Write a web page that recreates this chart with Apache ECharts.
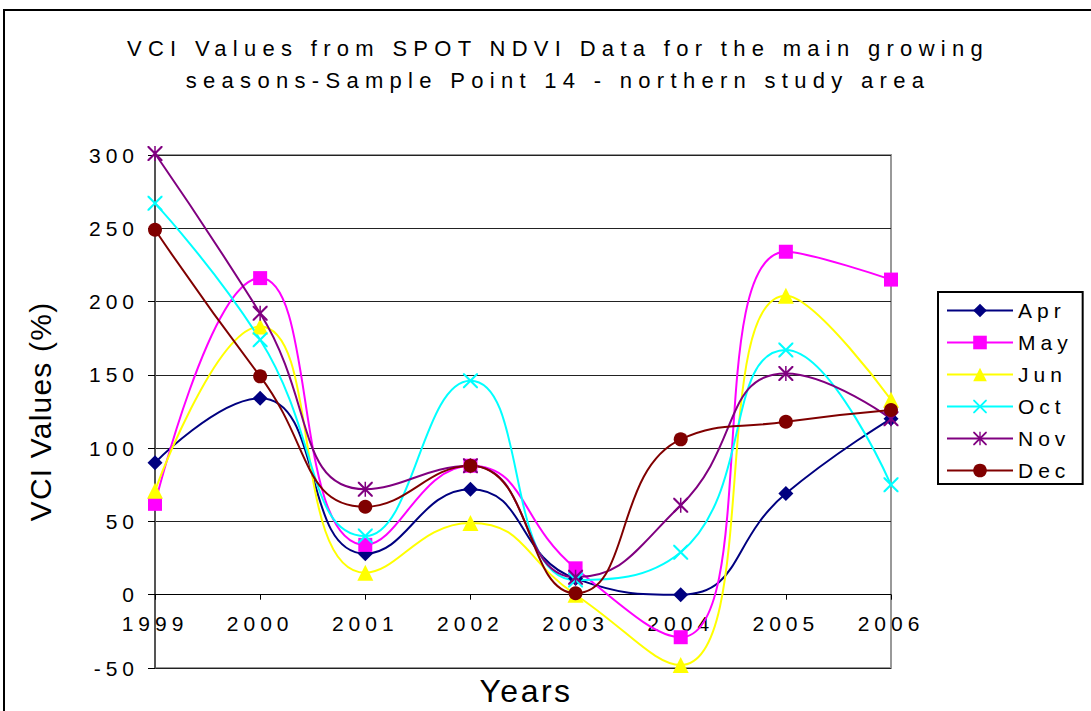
<!DOCTYPE html>
<html>
<head>
<meta charset="utf-8">
<script src="https://cdn.jsdelivr.net/npm/echarts@6/dist/echarts.min.js"></script>
<style>
  html, body { margin: 0; padding: 0; background: #fff; }
  #chart { width: 1091px; height: 711px; }
  /* old excel look: wide tracking on the small text */
  #chart text { letter-spacing: 5px; }
  #chart text[style*="22px"] { letter-spacing: 6.3px; }
  #chart text[style*="30px"] { letter-spacing: 1.2px; }
  #chart text[style*="32px"] { letter-spacing: 2.5px; }
</style>
</head>
<body>
<div id="chart"></div>
<script>
// years on the category axis
const years = ['1999', '2000', '2001', '2002', '2003', '2004', '2005', '2006']

// VCI values (%)
const apr = [90, 134, 28, 72, 11, 0, 69, 120]
const may = [62, 216, 34, 88, 18, -29, 234, 215]
const jun = [71, 183, 15, 49, 0, -48, 204, 133]
const oct = [267, 174, 40, 146, 10, 29, 167, 75]
const nov = [301, 192, 72, 88, 12, 61, 151, 120]
const dec = [249, 149, 60, 88, 1, 106, 118, 126]

const xPath = 'path://M0,0L2,0L10,8L18,0L20,0L20,2L12,10L20,18L20,20L18,20L10,12L2,20L0,20L0,18L8,10L0,2Z'
const starPath = 'path://M0,0L2,0L10,8L18,0L20,0L20,2L12,10L20,18L20,20L18,20L10,12L2,20L0,20L0,18L8,10L0,2ZM9,0L11,0L11,20L9,20Z'

const font = 'Liberation Sans'

function makeSeries (name, data, color, symbol, size) {
  return {
    name: name,
    type: 'line',
    data: data,
    smooth: 0.5,
    clip: false,
    symbol: symbol,
    symbolSize: size,
    showAllSymbol: true,
    lineStyle: { color: color, width: 2 },
    itemStyle: { color: color, borderWidth: 0 },
    emphasis: { disabled: true },
    z: 3
  }
}

const chart = echarts.init(document.getElementById('chart'), null, { renderer: 'svg' })
chart.setOption({
  animation: false,
  backgroundColor: '#fff',
  textStyle: { fontFamily: font },
  title: [
    {
      text: 'VCI Values from SPOT NDVI Data for the main growing\nseasons-Sample Point 14 - northern study area',
      left: 553,
      top: 27,
      textAlign: 'center',
      textStyle: { fontFamily: font, fontSize: 22, fontWeight: 'normal', color: '#000', lineHeight: 32 }
    },
    {
      text: 'Years',
      left: 521,
      top: 670,
      textAlign: 'center',
      textStyle: { fontFamily: font, fontSize: 32, fontWeight: 'normal', color: '#000' }
    }
  ],
  legend: {
    orient: 'vertical',
    left: 938,
    top: 292,
    itemWidth: 66,
    itemHeight: 17,
    itemGap: 11,
    padding: [8, 25, 3, 8],
    borderColor: '#000',
    borderWidth: 2,
    textStyle: { fontFamily: font, fontSize: 21, color: '#000' },
    data: ['Apr', 'May', 'Jun', 'Oct', 'Nov', 'Dec']
  },
  grid: { left: 155, right: 200, top: 155, bottom: 43, show: true, borderColor: '#999', borderWidth: 2 },
  xAxis: {
    type: 'category',
    data: years,
    boundaryGap: false,
    offset: -73.3,
    axisLine: { onZero: false, lineStyle: { color: '#000', width: 1 } },
    axisTick: { show: true, length: 5, alignWithLabel: true, lineStyle: { color: '#000' } },
    axisLabel: { fontFamily: font, fontSize: 21, color: '#000', margin: 18 },
    splitLine: { show: false }
  },
  yAxis: {
    type: 'value',
    min: -50,
    max: 300,
    interval: 50,
    name: 'VCI Values (%)',
    nameLocation: 'middle',
    nameGap: 100,
    nameTextStyle: { fontFamily: font, fontSize: 30, color: '#000' },
    axisLine: { show: true, onZero: false, lineStyle: { color: '#555', width: 2 } },
    axisTick: { show: true, length: 7, lineStyle: { color: '#000' } },
    axisLabel: { fontFamily: font, fontSize: 21, color: '#000', margin: 16 },
    splitLine: { show: true, lineStyle: { color: '#222', width: 1 } }
  },
  graphic: [
    {
      type: 'rect',
      shape: { x: 4, y: 10, width: 1100, height: 720 },
      style: { fill: 'none', stroke: '#000', lineWidth: 2 },
      silent: true
    }
  ],
  series: [
    makeSeries('Apr', apr, '#000080', 'diamond', 15),
    makeSeries('May', may, '#FF00FF', 'rect', 14),
    makeSeries('Jun', jun, '#FFFF00', 'triangle', 16),
    makeSeries('Oct', oct, '#00FFFF', xPath, 15),
    makeSeries('Nov', nov, '#800080', starPath, 15),
    makeSeries('Dec', dec, '#800000', 'circle', 14)
  ]
})
</script>
</body>
</html>
